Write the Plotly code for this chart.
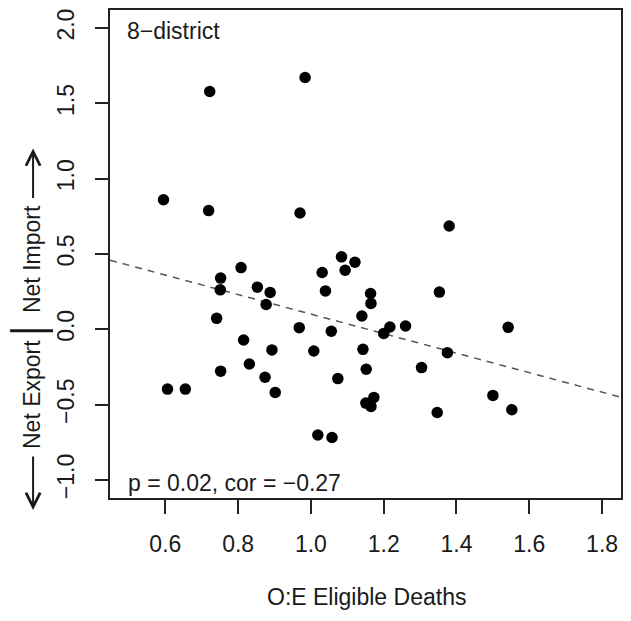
import plotly.graph_objects as go

# ---- data ----
oe_deaths = [0.722, 0.984, 0.595, 0.719, 0.970, 1.380, 1.084, 1.121, 1.094, 0.808,
             0.752, 1.031, 0.853, 0.751, 0.888, 1.040, 1.164, 1.353, 1.165, 0.877,
             0.741, 1.140, 0.968, 1.056, 1.200, 1.217, 1.260, 1.542, 0.815, 0.893,
             1.008, 1.143, 1.375, 0.831, 0.752, 1.152, 1.304, 0.874, 1.074, 0.606,
             0.655, 0.902, 1.500, 1.173, 1.151, 1.165, 1.552, 1.347, 1.019, 1.058]
net_flow = [1.579, 1.672, 0.860, 0.788, 0.772, 0.686, 0.481, 0.445, 0.392, 0.410,
            0.340, 0.377, 0.280, 0.262, 0.245, 0.255, 0.238, 0.247, 0.172, 0.165,
            0.073, 0.088, 0.011, -0.013, -0.027, 0.015, 0.022, 0.013, -0.071, -0.137,
            -0.144, -0.133, -0.155, -0.230, -0.278, -0.265, -0.254, -0.318, -0.327, -0.397,
            -0.397, -0.419, -0.439, -0.452, -0.490, -0.512, -0.534, -0.552, -0.702, -0.718]

fit_intercept = 0.749
fit_slope = -0.648

x_ticks = [0.6, 0.8, 1.0, 1.2, 1.4, 1.6, 1.8]
y_ticks = [-1.0, -0.5, 0.0, 0.5, 1.0, 1.5, 2.0]
x_range = [0.448, 1.852]
y_range = [-1.12, 2.12]

panel_label = "8−district"
stat_label = "p = 0.02, cor = −0.27"
x_title = "O:E Eligible Deaths"
y_title_low = "Net Export"
y_title_high = "Net Import"

# ---- layout geometry (screen pixels; page body adds an 8px offset) ----
OFF = 8
W, H = 631 - OFF, 621 - OFF
L, R, T, B = 110, 621.5, 8, 498
FONT = "Liberation Sans, Arial, Helvetica, sans-serif"
TXT = "#1a1a1a"


def px(xp):
    return (xp - L) / (R - L)


def py(yp):
    return (B - yp) / (B - T)


fig = go.Figure()

fit_x = x_range
fit_y = [fit_intercept + fit_slope * v for v in fit_x]
fig.add_trace(go.Scatter(x=fit_x, y=fit_y, mode="lines",
                         line=dict(color="#555555", width=1.5, dash="7px,6px"),
                         hoverinfo="skip", showlegend=False))

fig.add_trace(go.Scatter(x=oe_deaths, y=net_flow, mode="markers",
                         marker=dict(color="black", size=11.5, line=dict(width=0)),
                         showlegend=False))

axis_common = dict(showgrid=False, zeroline=False, showline=True, mirror=True,
                   linecolor="#222222", linewidth=1.5, ticks="outside",
                   tickcolor="#222222", tickwidth=1.5,
                   tickfont=dict(family=FONT, size=23, color=TXT))

fig.update_xaxes(range=x_range, tickvals=x_ticks,
                 ticktext=[f"{v:.1f}" for v in x_ticks], ticklen=14,
                 ticklabelstandoff=11, **axis_common)
fig.update_yaxes(range=y_range, tickvals=y_ticks,
                 ticktext=[f"{v:.1f}".replace("-", "−") for v in y_ticks], ticklen=13,
                 tickangle=-90, ticklabelstandoff=12, **axis_common)

annots = [
    dict(x=px(125), y=py(29.5), text=panel_label, xanchor="left", yanchor="middle"),
    dict(x=px(126), y=py(483), text=stat_label, xanchor="left", yanchor="middle"),
    dict(x=px(366.5), y=py(597), text=x_title, xanchor="center", yanchor="middle"),
    dict(x=px(32), y=py(258), text=y_title_high, textangle=-90,
         xanchor="center", yanchor="middle"),
    dict(x=px(32), y=py(394.5), text=y_title_low, textangle=-90,
         xanchor="center", yanchor="middle"),
]
for a in annots:
    a.update(xref="paper", yref="paper", showarrow=False,
             font=dict(family=FONT, size=23, color=TXT))
    fig.add_annotation(**a)

# arrows of the y title
for tip, tail in [(147, 198), (510, 455)]:
    fig.add_annotation(xref="paper", yref="paper", x=px(33), y=py(tip),
                       ax=0, ay=tail - tip, text="", showarrow=True,
                       arrowhead=5, arrowsize=1.4, arrowwidth=2,
                       arrowcolor=TXT, standoff=0, startstandoff=0)

# separator bar
fig.add_shape(type="line", xref="paper", yref="paper",
              x0=px(10), x1=px(53), y0=py(330), y1=py(330),
              line=dict(color=TXT, width=3))

fig.update_layout(width=W, height=H, autosize=False,
                  margin=dict(l=L - OFF, r=631 - R, t=T - OFF, b=621 - B, pad=0),
                  plot_bgcolor="white", paper_bgcolor="white",
                  showlegend=False)

fig.write_html("out.html")
